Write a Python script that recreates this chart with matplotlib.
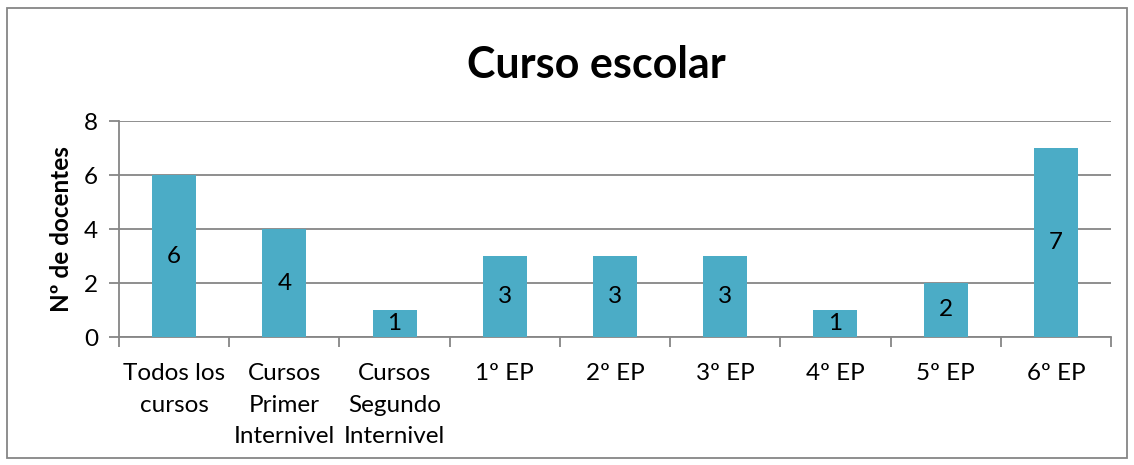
import matplotlib
matplotlib.use("Agg")
import matplotlib.pyplot as plt
from matplotlib.patches import Rectangle
import numpy as np

categories = ["Todos los\ncursos", "Cursos\nPrimer\nInternivel", "Cursos\nSegundo\nInternivel",
              "1º EP", "2º EP", "3º EP", "4º EP", "5º EP", "6º EP"]
values = [6, 4, 1, 3, 3, 3, 1, 2, 7]
yticks = [0, 2, 4, 6, 8]

plt.rcParams['font.family'] = ['Lato', 'DejaVu Sans']
W, H = 1134, 465
fig = plt.figure(figsize=(W/100, H/100), dpi=100)
ax = fig.add_axes([119/W, 1-337/H, (1111-119)/W, (337-121)/H])

grid_c = '#868686'
bar_c = '#4BACC6'
fs = 17.5
x = np.arange(len(categories))
ax.bar(x, values, width=0.4, color=bar_c, zorder=3)
for xi, v in zip(x, values):
    ax.text(xi, v/2, str(v), ha='center', va='center', fontsize=fs, color='black', zorder=4)

ax.set_xlim(-0.5, len(categories)-0.5)
ax.set_ylim(0, 8)
ax.set_yticks(yticks)
ax.set_yticklabels([str(t) for t in yticks], fontsize=fs)
ax.yaxis.grid(True, color=grid_c, linewidth=1.3, zorder=0)
ax.set_axisbelow(True)
for s in ['top', 'right']:
    ax.spines[s].set_visible(False)
for s in ['left', 'bottom']:
    ax.spines[s].set_color(grid_c)
    ax.spines[s].set_linewidth(1.3)
ax.tick_params(axis='y', length=7, width=1.3, color=grid_c, pad=8)

ax.set_xticks(x)
ax.set_xticklabels(categories, fontsize=fs, linespacing=1.62, va='top')
ax.tick_params(axis='x', which='major', length=0, pad=19)
ax.set_xticks(np.arange(-0.5, len(categories), 1), minor=True)
ax.tick_params(axis='x', which='minor', length=7, width=1.3, color=grid_c)

ax.set_ylabel("Nº de docentes", fontsize=fs, fontweight='bold', labelpad=8)
fig.text(596/W, 1-65/H, "Curso escolar", ha='center', va='center', fontsize=31, fontweight='bold')

fig.patches.append(Rectangle((7/W, 1-458/H), (1127-7)/W, (458-8)/H, transform=fig.transFigure,
                             fill=False, edgecolor=grid_c, linewidth=1.3))
fig.savefig("out.png", dpi=100)
